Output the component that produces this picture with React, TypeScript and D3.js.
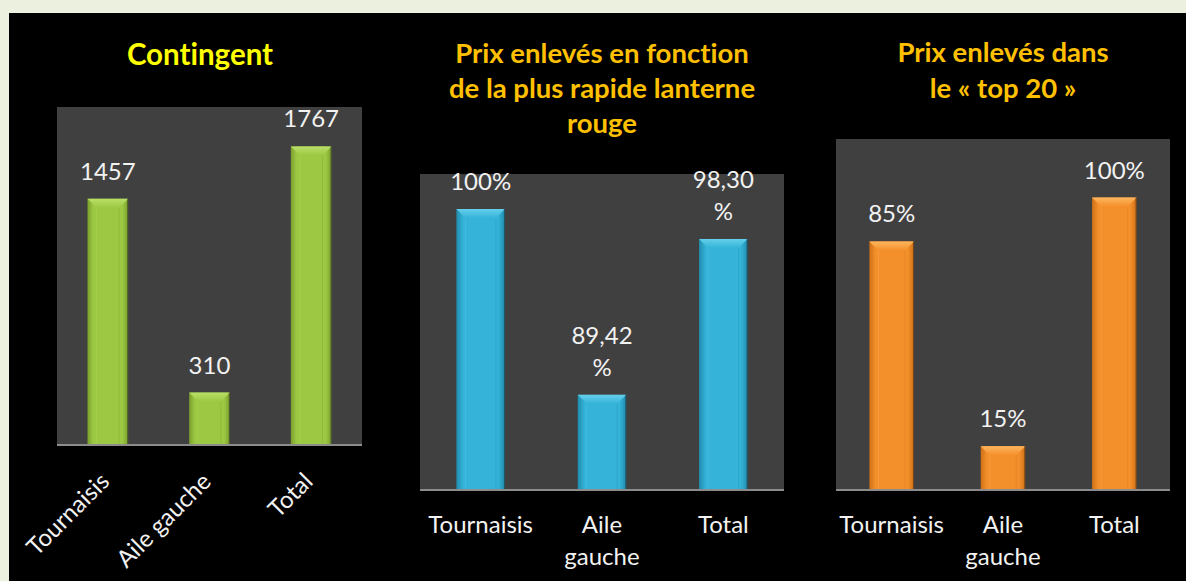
import React from "react";
import * as d3 from "d3";

const categories = ["Tournaisis", "Aile gauche", "Total"];
const categoryLines = [["Tournaisis"], ["Aile", "gauche"], ["Total"]];

const contingentValues = [1457, 310, 1767];
const contingentLabels = [["1457"], ["310"], ["1767"]];

const lanterneValues = [100, 89.42, 98.3];
const lanterneLabels = [["100%"], ["89,42", "%"], ["98,30", "%"]];

const top20Values = [85, 15, 100];
const top20Labels = [["85%"], ["15%"], ["100%"]];

const FONT = "Lato, 'Open Sans', sans-serif";

type Panel = {
  id: string;
  title: string[];
  titleColor: string;
  titleSize: number;
  titleX: number;
  titleY: number;
  titleStep: number;
  values: number[];
  labels: string[][];
  domain: [number, number];
  x0: number;
  x1: number;
  yTop: number;
  yBase: number;
  rotated: boolean;
  base: string;
  light: string;
  dark: string;
};

const panels: Panel[] = [
  {
    id: "g",
    title: ["Contingent"],
    titleColor: "#FFFF00",
    titleSize: 29.5,
    titleX: 200,
    titleY: 65,
    titleStep: 35,
    values: contingentValues,
    labels: contingentLabels,
    domain: [0, 2000],
    x0: 57,
    x1: 362,
    yTop: 107,
    yBase: 445,
    rotated: true,
    base: "#9CC843",
    light: "#BADF68",
    dark: "#7A9F2C",
  },
  {
    id: "b",
    title: ["Prix enlevés en fonction", "de la plus rapide lanterne", "rouge"],
    titleColor: "#FFC000",
    titleSize: 27.5,
    titleX: 602,
    titleY: 63,
    titleStep: 35,
    values: lanterneValues,
    labels: lanterneLabels,
    domain: [84, 102],
    x0: 420,
    x1: 784,
    yTop: 174,
    yBase: 490,
    rotated: false,
    base: "#35B3D8",
    light: "#64CFEB",
    dark: "#1F8CAE",
  },
  {
    id: "o",
    title: ["Prix enlevés dans", "le « top 20 »"],
    titleColor: "#FFC000",
    titleSize: 27.5,
    titleX: 1003,
    titleY: 62,
    titleStep: 36,
    values: top20Values,
    labels: top20Labels,
    domain: [0, 120],
    x0: 836,
    x1: 1170,
    yTop: 139,
    yBase: 490,
    rotated: false,
    base: "#F4902C",
    light: "#FDB65E",
    dark: "#CF7016",
  },
];

const textStyle = { fontVariantLigatures: "none" } as React.CSSProperties;

function ChartPanel({ p }: { p: Panel }) {
  const x = d3.scaleBand<string>().domain(categories).range([p.x0, p.x1]).padding(0);
  const y = d3.scaleLinear().domain(p.domain).range([p.yBase, p.yTop]);
  const bw = x.bandwidth() * 0.4;
  const bev = 9;
  return (
    <g>
      <defs>
        <linearGradient id={`grad-${p.id}`} x1="0" x2="1" y1="0" y2="0">
          <stop offset="0" stopColor={p.dark} />
          <stop offset="0.14" stopColor={p.base} />
          <stop offset="0.86" stopColor={p.base} />
          <stop offset="1" stopColor={p.dark} />
        </linearGradient>
        <linearGradient id={`top-${p.id}`} x1="0" x2="0" y1="0" y2="1">
          <stop offset="0" stopColor={p.light} />
          <stop offset="1" stopColor={p.base} />
        </linearGradient>
      </defs>
      <rect x={p.x0} y={p.yTop} width={p.x1 - p.x0} height={p.yBase - p.yTop} fill="#404040" />
      {p.values.map((v, i) => {
        const cx = (x(categories[i]) as number) + x.bandwidth() / 2;
        const bx0 = cx - bw / 2;
        const bx1 = cx + bw / 2;
        const top = y(v);
        const bottom = p.yBase + 1;
        return (
          <g key={i}>
            <rect x={bx0} y={top} width={bw} height={bottom - top} fill={`url(#grad-${p.id})`} />
            <polygon
              points={`${bx0},${top} ${bx1},${top} ${bx1 - bev},${top + bev} ${bx0 + bev},${top + bev}`}
              fill={`url(#top-${p.id})`}
            />
            <line x1={bx0 + bev} x2={bx0 + bev} y1={top + bev} y2={bottom} stroke={p.light} strokeOpacity={0.3} strokeWidth={1} />
            <line x1={bx1 - bev} x2={bx1 - bev} y1={top + bev} y2={bottom} stroke={p.dark} strokeOpacity={0.3} strokeWidth={1} />
            <line x1={bx1 - 0.5} x2={bx1 - 0.5} y1={top} y2={bottom} stroke="#1a1a1a" strokeOpacity={0.5} strokeWidth={1} />
            {p.labels[i].map((t, j) => (
              <text
                key={j}
                x={cx}
                y={top - 19 - (p.labels[i].length - 1 - j) * 32}
                fill="#F2F2F2"
                fontSize={24}
                fontFamily={FONT}
                textAnchor="middle"
                style={textStyle}
              >
                {t}
              </text>
            ))}
            {p.rotated ? (
              <text
                transform={`translate(${cx + 3},${p.yBase + 38}) rotate(-45)`}
                fill="#F2F2F2"
                fontSize={24}
                fontFamily={FONT}
                textAnchor="end"
                style={textStyle}
              >
                {categories[i]}
              </text>
            ) : (
              categoryLines[i].map((t, j) => (
                <text
                  key={j}
                  x={cx}
                  y={533 + j * 32}
                  fill="#F2F2F2"
                  fontSize={24}
                  fontFamily={FONT}
                  textAnchor="middle"
                  style={textStyle}
                >
                  {t}
                </text>
              ))
            )}
          </g>
        );
      })}
      <line x1={p.x0} x2={p.x1} y1={p.yBase} y2={p.yBase} stroke="#8C8C8C" strokeWidth={2} />
      {p.title.map((t, j) => (
        <text
          key={j}
          x={p.titleX}
          y={p.titleY + j * p.titleStep}
          fill={p.titleColor}
          fontSize={p.titleSize}
          fontWeight="bold"
          fontFamily={FONT}
          textAnchor="middle"
          style={textStyle}
        >
          {t}
        </text>
      ))}
    </g>
  );
}

export default function App() {
  return (
    <svg
      width={1186}
      height={581}
      style={{ position: "fixed", left: 0, top: 0, display: "block" }}
    >
      <rect x={0} y={0} width={1186} height={581} fill="#EBF1DE" />
      <rect x={9} y={13} width={1177} height={568} fill="#000000" />
      {panels.map((p) => (
        <ChartPanel key={p.id} p={p} />
      ))}
    </svg>
  );
}
